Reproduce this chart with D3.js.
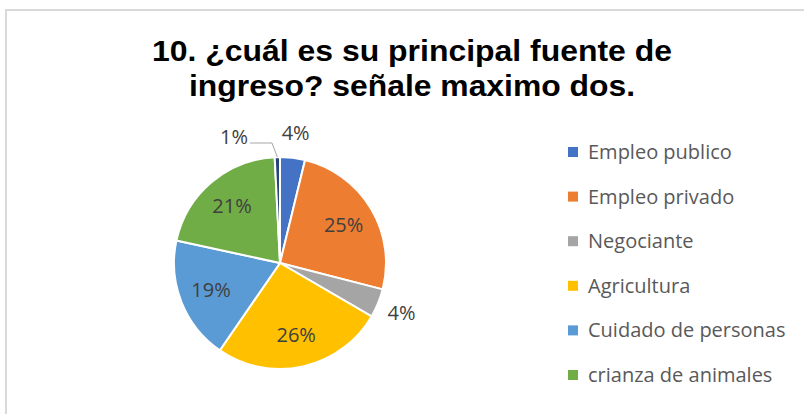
<!DOCTYPE html>
<meta charset="utf-8">
<style>
body { margin: 0; background: #fff; }
.title { font: bold 30px "Liberation Sans", Arial, sans-serif; fill: #000; }
.lbl { font: 20px "Open Sans", sans-serif; fill: #404040; }
.legend text { font: 20px "Open Sans", sans-serif; fill: #595959; }
</style>
<svg width="804" height="414"></svg>
<script src="https://cdn.jsdelivr.net/npm/d3@7"></script>
<script>

var categories = ["Empleo publico", "Empleo privado", "Negociante", "Agricultura",
                  "Cuidado de personas", "crianza de animales", "Otro"];
var values = [3.8, 25.2, 4.4, 26.2, 18.8, 20.8, 0.8];
var colors = ["#4472c4", "#ed7d31", "#a5a5a5", "#ffc000", "#5b9bd5", "#70ad47", "#264478"];
var legendCount = 6;   // last slice has no legend entry in the original
var titleLines = ["10. ¿cuál es su principal fuente de", "ingreso? señale maximo dos."];

var svg = d3.select("svg");

// chart frame
svg.append("rect")
    .attr("x", 6).attr("y", 10)
    .attr("width", 820).attr("height", 420)
    .attr("fill", "none")
    .attr("stroke", "#d9d9d9")
    .attr("stroke-width", 2);

svg.selectAll("text.title")
  .data(titleLines)
  .enter().append("text")
    .attr("class", "title")
    .attr("x", 412)
    .attr("y", function(d, i) { return 61 + i * 35; })
    .attr("text-anchor", "middle")
    .attr("textLength", function(d, i) { return i == 0 ? 520 : 446; })
    .attr("lengthAdjust", "spacingAndGlyphs")
    .text(function(d) { return d; });

var cx = 280, cy = 263, r = 106;
var total = d3.sum(values);
var pct = function(v) { return Math.round(v / total * 100) + "%"; };

var pie = d3.pie().sort(null).value(function(d) { return d; });
var arcs = pie(values);
var arc = d3.arc().innerRadius(0).outerRadius(r);

var g = svg.append("g").attr("transform", "translate(" + cx + "," + cy + ")");

g.selectAll("path")
  .data(arcs)
  .enter().append("path")
    .attr("d", arc)
    .attr("fill", function(d, i) { return colors[i]; })
    .attr("stroke", "#fff")
    .attr("stroke-width", 2)
    .attr("stroke-linejoin", "round");

// labels: inside for big slices, outside for small ones
function labelPos(d, i) {
  var a = (d.startAngle + d.endAngle) / 2;
  if (i == 6) return [-32, -126];
  var rr = (d.endAngle - d.startAngle) < 0.4 ? r * 1.24 : r * 0.7;
  return [Math.sin(a) * rr, -Math.cos(a) * rr];
}

g.selectAll("text.lbl")
  .data(arcs)
  .enter().append("text")
    .attr("class", "lbl")
    .attr("x", function(d, i) { return labelPos(d, i)[0]; })
    .attr("y", function(d, i) { return labelPos(d, i)[1]; })
    .attr("dy", "0.35em")
    .attr("text-anchor", function(d, i) { return i == 6 ? "end" : "middle"; })
    .text(function(d) { return pct(d.data); });

// leader line for the tiny slice
var tiny = arcs[6];
var ta = (tiny.startAngle + tiny.endAngle) / 2;
g.append("polyline")
    .attr("points", [[-30, -120], [-8, -120], [Math.sin(ta) * r, -Math.cos(ta) * r]].join(" "))
    .attr("fill", "none")
    .attr("stroke", "#a6a6a6")
    .attr("stroke-width", 1);

var legend = svg.append("g").attr("class", "legend")
  .selectAll("g")
  .data(categories.slice(0, legendCount))
  .enter().append("g")
    .attr("transform", function(d, i) { return "translate(568," + (152 + i * 44.6) + ")"; });

legend.append("rect")
    .attr("x", 0).attr("y", -5)
    .attr("width", 10).attr("height", 10)
    .attr("fill", function(d, i) { return colors[i]; });

legend.append("text")
    .attr("x", 20)
    .attr("dy", "0.35em")
    .text(function(d) { return d; });

</script>
